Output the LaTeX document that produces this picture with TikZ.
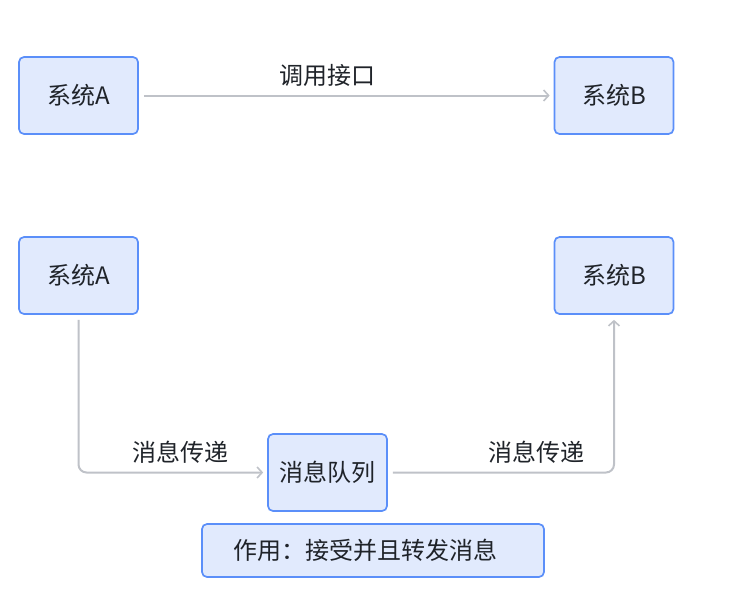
\documentclass[tikz,border=0pt]{standalone}
\usepackage{fontspec}
\setmainfont{Noto Sans CJK SC}
\usepackage{xcolor}
\usepackage{tikz}
\usetikzlibrary{arrows.meta,positioning}

\definecolor{boxfill}{HTML}{E1EAFD}
\definecolor{boxline}{HTML}{5B8FF9}
\definecolor{linkgray}{HTML}{BFC2C8}
\definecolor{textdark}{HTML}{1F2329}

\begin{document}
\begin{tikzpicture}[x=1pt, y=-1pt,
    every node/.style={text=textdark, font=\fontsize{24}{27}\selectfont},
    sysbox/.style={draw=boxline, fill=boxfill, line width=1.7pt, rounded corners=5pt,
        minimum width=119pt, minimum height=77pt, inner sep=0pt},
    notebox/.style={sysbox, minimum height=53pt, text width=342pt, align=left},
    link/.style={draw=linkgray, line width=2pt, rounded corners=8pt,
        -{Straight Barb[length=5pt, width=11pt, line width=1.6pt]}}]
    \useasboundingbox (0,0) rectangle (755,611);

    % Synchronous call
    \node[sysbox] (sysA1) at (78.5,95.5) {系统A};
    \node[sysbox] (sysB1) at (614,95.5) {系统B};
    \draw[link, shorten <=5pt, shorten >=4pt] (sysA1) -- (sysB1);
    \node (call) at (327,75) {调用接口};

    % Via message queue
    \node[sysbox] (sysA2) at (78.5,275.5) {系统A};
    \node[sysbox] (sysB2) at (614,275.5) {系统B};
    \node[sysbox] (queue) at (327.5,472.5) {消息队列};
    \node[notebox] (note) at (373,550.5) {\hspace*{31pt}作用：接受并且转发消息};

    \draw[link, shorten <=5pt, shorten >=4pt] (sysA2.south) |- (queue.west);
    \draw[link, shorten <=5pt, shorten >=5pt] (queue.east) -| (sysB2.south);
    \node (send1) at (180,452) {消息传递};
    \node (send2) at (536,452) {消息传递};
\end{tikzpicture}
\end{document}
